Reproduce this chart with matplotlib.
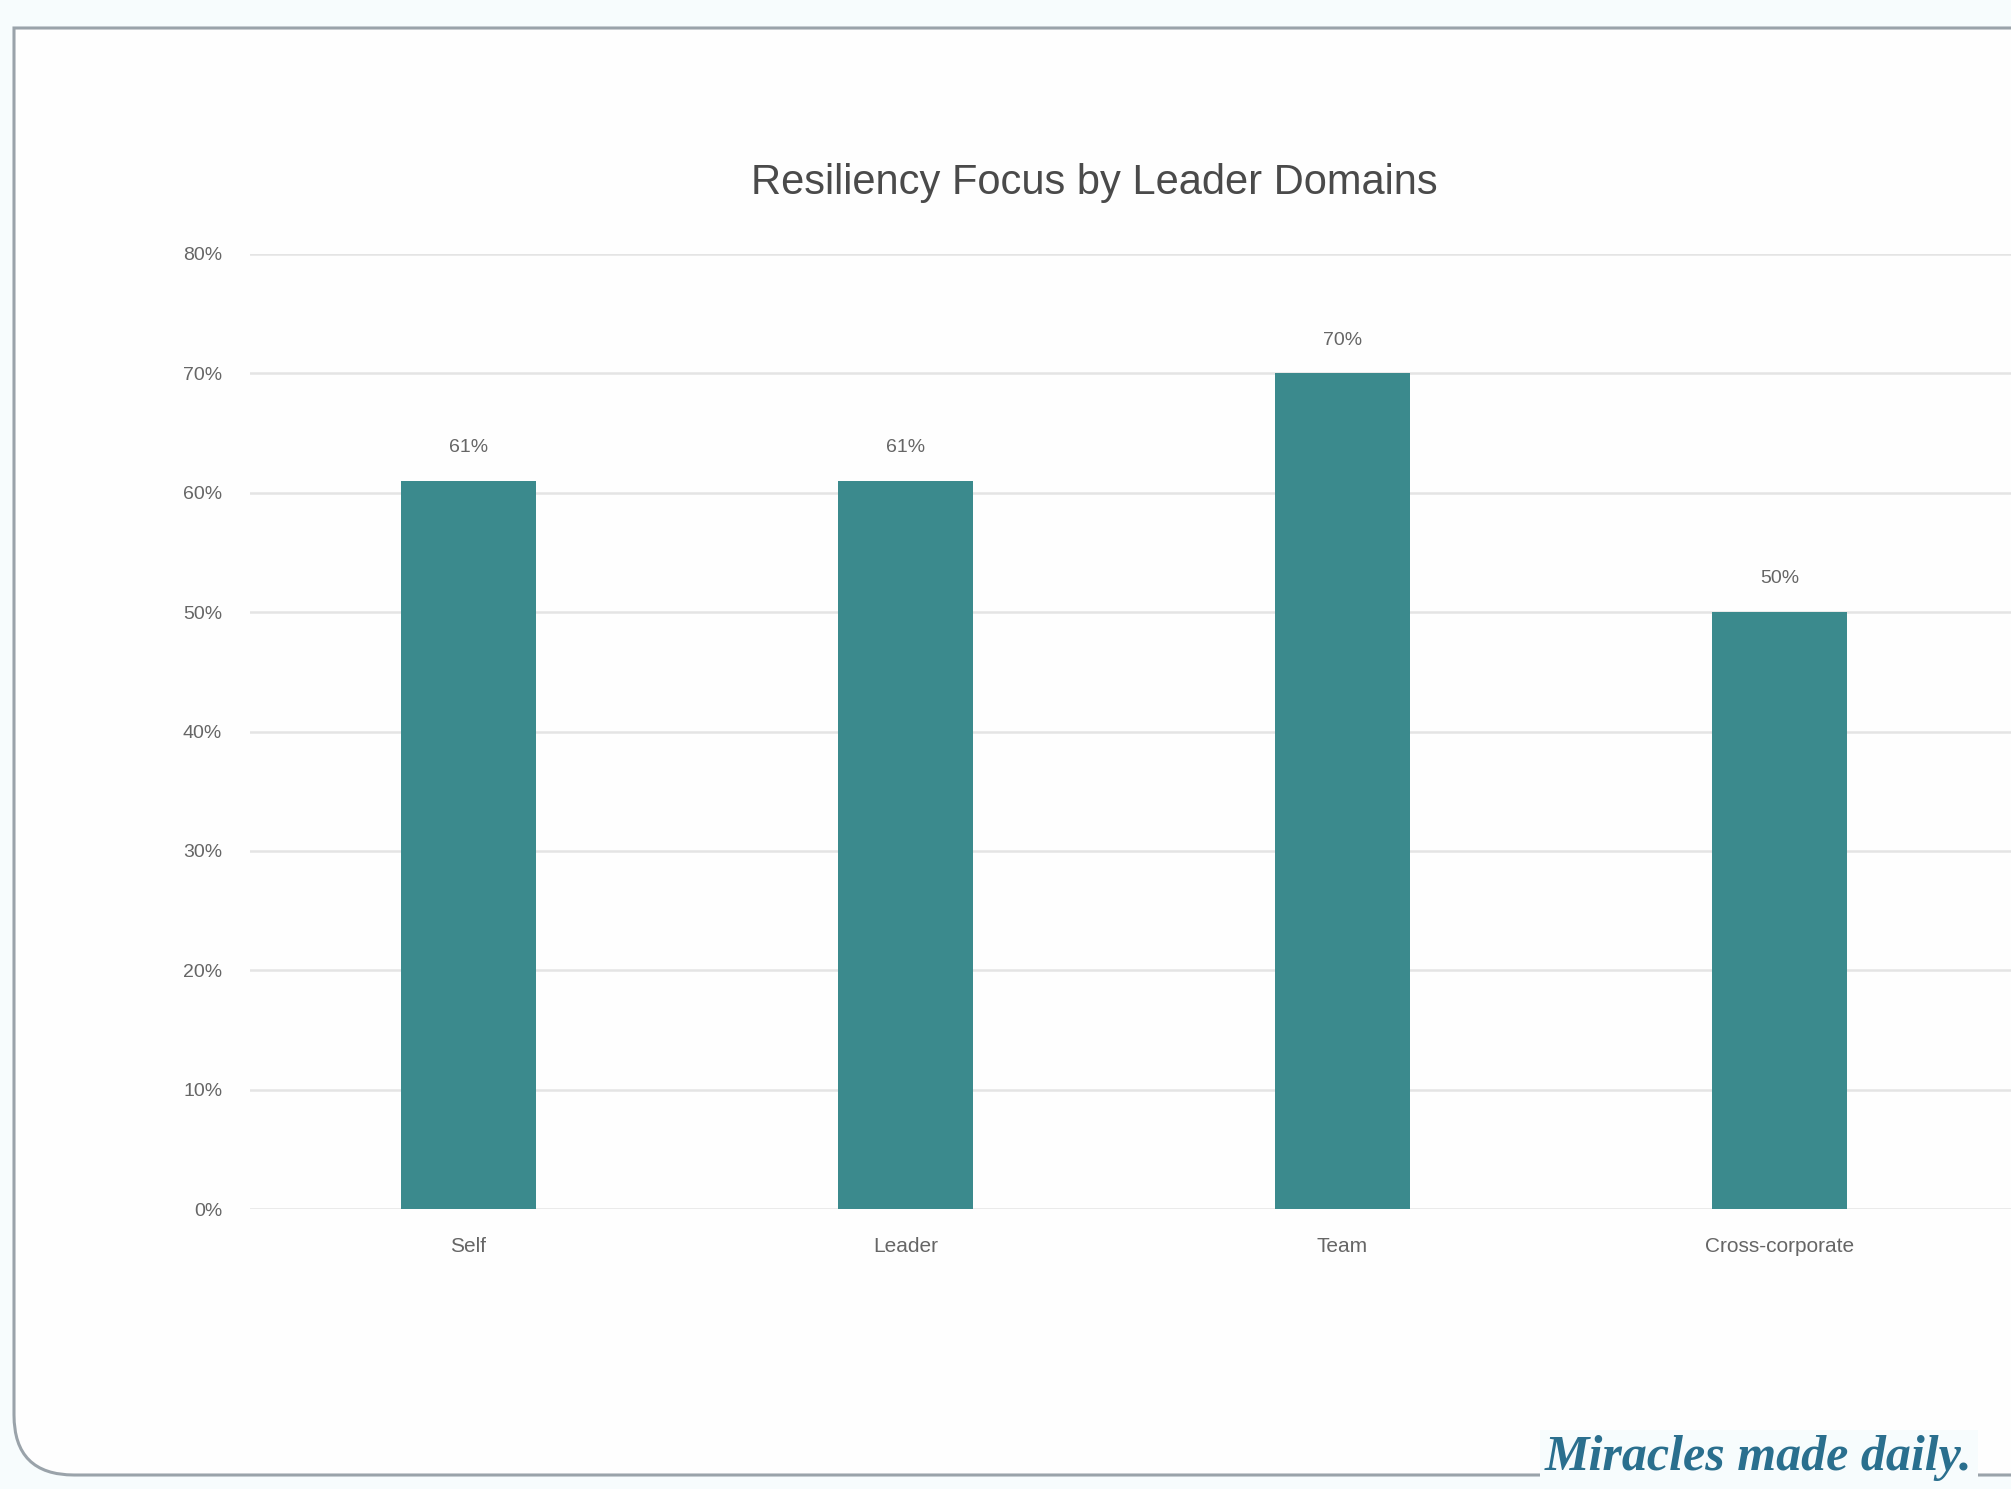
import numpy as np
import matplotlib
matplotlib.use('Agg')
import matplotlib.pyplot as plt
from matplotlib import font_manager
from matplotlib.path import Path
from matplotlib.patches import PathPatch

# --- data ---
categories = ['Self', 'Leader', 'Team', 'Cross-corporate']
values = [61, 61, 70, 50]
yticks = [0, 10, 20, 30, 40, 50, 60, 70, 80]
title = 'Resiliency Focus by Leader Domains'
footer = 'Miracles made daily.'

# pick a narrow font if we have one
names = {f.name for f in font_manager.fontManager.ttflist}
narrow = 'Liberation Sans Narrow' if 'Liberation Sans Narrow' in names else 'Liberation Sans'
print('font:', narrow)

W, H = 2011, 1489
fig = plt.figure(figsize=(W / 100, H / 100), dpi=100)
fig.patch.set_facecolor('#f7fcfd')

# frame with rounded bottom-left corner, runs off the right edge
x0, y0, y1, r = 14, 14, 1461, 60
verts = [(W + 50, y1), (x0, y1), (x0, y0 + r), (x0, y0), (x0 + r, y0), (W + 50, y0)]
codes = [Path.MOVETO, Path.LINETO, Path.LINETO, Path.CURVE3, Path.CURVE3, Path.LINETO]
verts = [(vx / W, vy / H) for vx, vy in verts]
frame = PathPatch(Path(verts, codes), transform=fig.transFigure,
                  facecolor='#fefefe', edgecolor='#9aa3aa', lw=2.2, zorder=-5)
fig.patches.append(frame)

ax = fig.add_axes([250 / W, 280 / H, (W - 250) / W, 955 / H])
ax.set_zorder(2)
ax.set_facecolor('none')
x = np.arange(len(categories))
bar_color = '#3b8a8d'
ax.bar(x, values, width=0.31, color=bar_color, zorder=3)

ax.set_ylim(0, 80)
ax.set_xlim(-0.5, 3.53)
ax.set_yticks(yticks)
ax.set_yticklabels([f'{v}%' for v in yticks], fontsize=14, color='#666666', family=narrow)
ax.set_xticks(x)
ax.set_xticklabels(categories, fontsize=15, color='#666666', family=narrow)
ax.tick_params(axis='both', length=0)
ax.tick_params(axis='y', pad=20)
ax.tick_params(axis='x', pad=20)
ax.grid(axis='y', color='#e4e4e4', lw=1.8, zorder=0)
for s in ax.spines.values():
    s.set_visible(False)

for xi, v in zip(x, values):
    ax.annotate(f'{v}%', (xi, v), xytext=(0, 24), textcoords='offset points',
                ha='center', va='center', fontsize=14, color='#666666', family=narrow)

fig.text(1094 / W, 1 - 183 / H, title, ha='center', va='center',
         fontsize=30, color='#4a4a4a', family=narrow)

fig.text(1545 / W, 1 - 1458 / H, footer, ha='left', va='center',
         fontsize=36, color='#2a6f8e', family='Liberation Serif', style='italic',
         weight='bold', zorder=5,
         bbox=dict(facecolor='#f7fcfd', edgecolor='none', pad=4))

fig.savefig('out.png', dpi=100, facecolor=fig.get_facecolor())
